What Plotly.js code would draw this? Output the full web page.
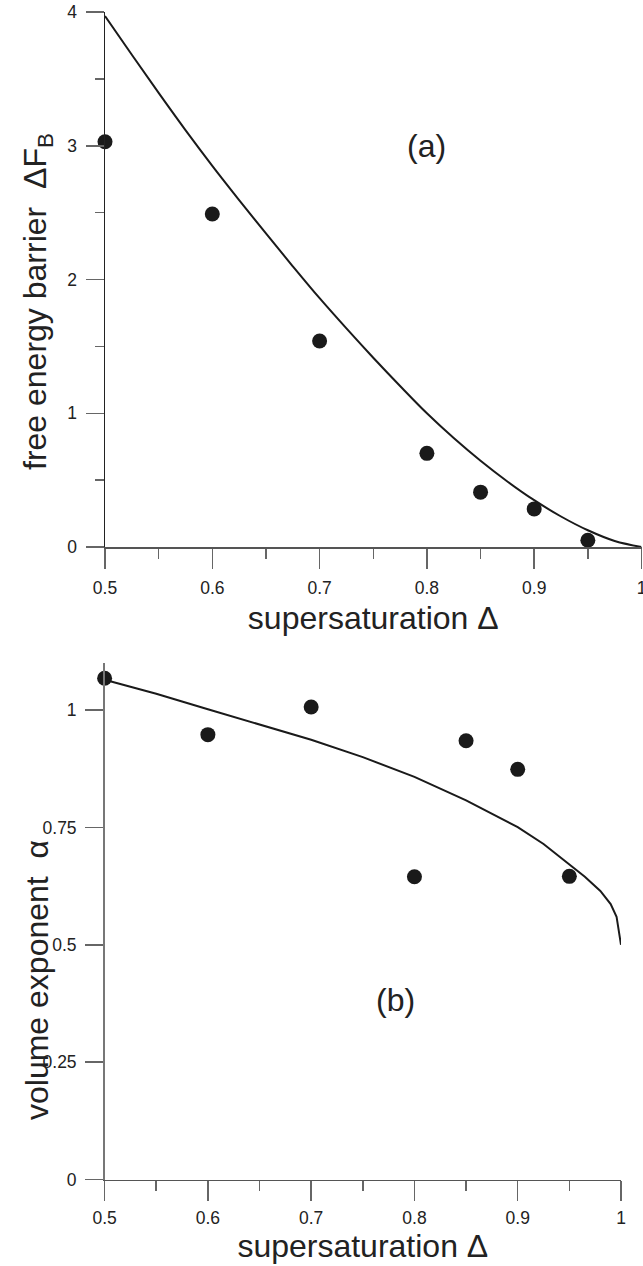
<!DOCTYPE html>
<html>
<head>
<meta charset="utf-8">
<script src="https://cdn.plot.ly/plotly-3.0.1.min.js"></script>
<style>html,body{margin:0;padding:0;background:#fff;overflow:hidden;}#chart{width:643px;height:1266px;}</style>
</head>
<body>
<div id="chart"></div>
<script>
// Panel (a): free energy barrier
const dotsX = [0.5, 0.6, 0.7, 0.8, 0.85, 0.9, 0.95];
const barrierDots = [3.03, 2.49, 1.54, 0.70, 0.41, 0.285, 0.05];
const barrierCurveX = [0.5, 0.525, 0.55, 0.575, 0.6, 0.625, 0.65, 0.675, 0.7, 0.725, 0.75, 0.775, 0.8, 0.825, 0.85, 0.875, 0.9, 0.925, 0.95, 0.975, 1.0];
const barrierCurveY = [3.97, 3.68, 3.395, 3.117, 2.85, 2.594, 2.344, 2.099, 1.86, 1.634, 1.415, 1.204, 1.00, 0.815, 0.645, 0.49, 0.35, 0.228, 0.125, 0.045, 0.0];
// Panel (b): volume exponent
const exponentDots = [1.068, 0.948, 1.007, 0.645, 0.935, 0.874, 0.646];
const exponentCurveX = [0.5, 0.55, 0.6, 0.65, 0.7, 0.75, 0.8, 0.85, 0.875, 0.9, 0.925, 0.95, 0.965, 0.98, 0.99, 0.9957, 1.0];
const exponentCurveY = [1.065, 1.035, 1.002, 0.969, 0.937, 0.900, 0.858, 0.808, 0.780, 0.751, 0.715, 0.670, 0.645, 0.615, 0.587, 0.560, 0.500];
// Tick labels
const xTickVals = [0.5, 0.6, 0.7, 0.8, 0.9, 1.0];
const xTickText = ["0.5", "0.6", "0.7", "0.8", "0.9", "1"];
const yTopTickVals = [0, 1, 2, 3, 4];
const yTopTickText = ["0", "1", "2", "3", "4"];
const yBotTickVals = [0, 0.25, 0.5, 0.75, 1];
const yBotTickText = ["0", "0.25", "0.5", "0.75", "1"];

const W = 643, H = 1266;
const FONT = "Liberation Sans, Arial, sans-serif";
const ink = "#1a1a1a";

const traces = [
  {x: barrierCurveX, y: barrierCurveY, type: "scatter", mode: "lines", line: {color: ink, width: 2, shape: "spline", smoothing: 1}, xaxis: "x", yaxis: "y", cliponaxis: false, showlegend: false, hoverinfo: "skip"},
  {x: dotsX, y: barrierDots, type: "scatter", mode: "markers", marker: {color: ink, size: 15}, xaxis: "x", yaxis: "y", cliponaxis: false, showlegend: false},
  {x: exponentCurveX, y: exponentCurveY, type: "scatter", mode: "lines", line: {color: ink, width: 2, shape: "linear"}, xaxis: "x2", yaxis: "y2", cliponaxis: false, showlegend: false, hoverinfo: "skip"},
  {x: dotsX, y: exponentDots, type: "scatter", mode: "markers", marker: {color: ink, size: 15}, xaxis: "x2", yaxis: "y2", cliponaxis: false, showlegend: false}
];

const tickFont = {family: FONT, size: 17.5, color: "#222"};
const titleFont = {family: FONT, size: 32, color: "#222"};

function xAxis(domain, anchor, labelGap, titleGap) {
  return {
    domain: domain, anchor: anchor, range: [0.5, 1.0], showgrid: false, zeroline: false,
    showline: true, linecolor: "#555", linewidth: 1.5,
    tickmode: "array", tickvals: xTickVals, ticktext: xTickText,
    ticks: "outside", ticklen: 20, tickcolor: "#666", tickwidth: 1.5,
    minor: {dtick: 0.05, tick0: 0.5, ticks: "outside", ticklen: 10, tickcolor: "#666", tickwidth: 1.5, showgrid: false},
    tickfont: tickFont, ticklabeloverflow: "allow", ticklabelstandoff: labelGap,
    title: {text: "supersaturation \u0394", font: titleFont, standoff: titleGap}
  };
}

const layout = {
  width: W, height: H,
  margin: {l: 0, r: 0, t: 0, b: 0},
  paper_bgcolor: "#fff", plot_bgcolor: "#fff",
  showlegend: false,
  xaxis: xAxis([105 / W, 641.5 / W], "y", 4, 10),
  yaxis: {
    domain: [1 - 547 / H, 1 - 12 / H], anchor: "x", range: [0, 4], showgrid: false, zeroline: false,
    showline: true, linecolor: "#222", linewidth: 1.5,
    tickmode: "array", tickvals: yTopTickVals, ticktext: yTopTickText,
    ticks: "outside", ticklen: 18, tickcolor: "#666", tickwidth: 1.5,
    minor: {dtick: 0.5, tick0: 0, ticks: "outside", ticklen: 9, tickcolor: "#666", tickwidth: 1.5, showgrid: false},
    tickfont: tickFont, ticklabelstandoff: 5
  },
  xaxis2: xAxis([104.6 / W, 621 / W], "y2", 2, 6),
  yaxis2: {
    domain: [1 - 1179.5 / H, 1 - 663.3 / H], anchor: "x2", range: [0, 1.1], showgrid: false, zeroline: false,
    showline: true, linecolor: "#777", linewidth: 1.5,
    tickmode: "array", tickvals: yBotTickVals, ticktext: yBotTickText,
    ticks: "outside", ticklen: 18, tickcolor: "#666", tickwidth: 1.5,
    tickfont: tickFont, ticklabelstandoff: 5
  },
  annotations: [
    {xref: "paper", yref: "paper", x: 37 / W, y: 1 - 302 / H, text: "free energy barrier  \u0394F<sub>B</sub>", textangle: -90, showarrow: false, font: titleFont, xanchor: "center", yanchor: "middle"},
    {xref: "paper", yref: "paper", x: 37 / W, y: 1 - 980 / H, text: "volume exponent  \u03b1", textangle: -90, showarrow: false, font: titleFont, xanchor: "center", yanchor: "middle"},
    {xref: "paper", yref: "paper", x: 426 / W, y: 1 - 146 / H, text: "(a)", showarrow: false, font: titleFont, xanchor: "center", yanchor: "middle"},
    {xref: "paper", yref: "paper", x: 395 / W, y: 1 - 1000 / H, text: "(b)", showarrow: false, font: titleFont, xanchor: "center", yanchor: "middle"}
  ]
};

Plotly.newPlot("chart", traces, layout, {staticPlot: true, displayModeBar: false});
</script>
</body>
</html>
